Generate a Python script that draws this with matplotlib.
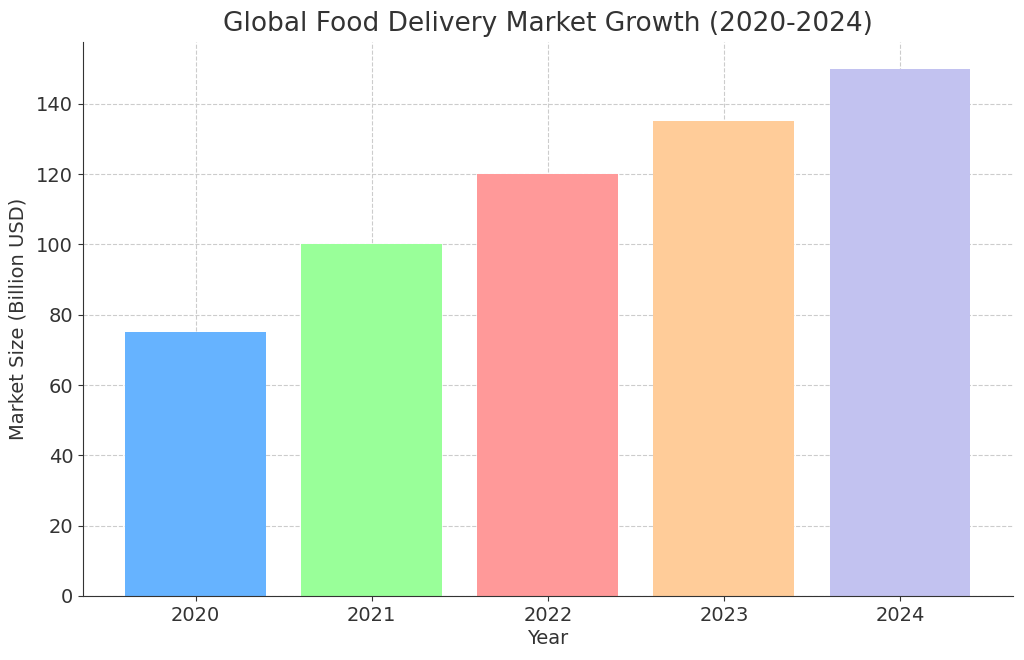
import matplotlib.pyplot as plt

years = ['2020', '2021', '2022', '2023', '2024']
market_size = [75, 100, 120, 135, 150]
colors = ['#66b3ff', '#99ff99', '#ff9999', '#ffcc99', '#c2c2f0']

fig, ax = plt.subplots(figsize=(10.24, 6.6), dpi=100)
fig.subplots_adjust(left=0.081, right=0.989, top=0.936, bottom=0.097)

ax.bar(years, market_size, color=colors, width=0.8, zorder=2)

ax.set_title('Global Food Delivery Market Growth (2020-2024)', fontsize=19, color='#333333', pad=8)
ax.set_xlabel('Year', fontsize=14, color='#333333', labelpad=3)
ax.set_ylabel('Market Size (Billion USD)', fontsize=14, color='#333333', labelpad=6)
ax.tick_params(labelsize=14, colors='#333333')
ax.grid(True, linestyle='--', color='#cccccc', linewidth=0.8, zorder=0)
ax.set_axisbelow(True)
ax.spines['top'].set_visible(False)
ax.spines['right'].set_visible(False)
ax.spines['left'].set_color('#333333')
ax.spines['bottom'].set_color('#333333')

fig.savefig('out.png', dpi=100)
